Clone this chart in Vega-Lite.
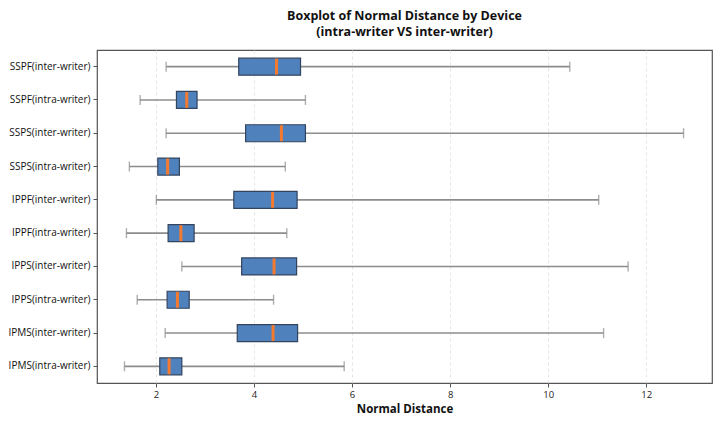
{
  "$schema": "https://vega.github.io/schema/vega-lite/v6.json",
  "autosize": {"type": "none"},
  "width": 615,
  "height": 333,
  "padding": {"left": 97, "top": 50, "right": 8, "bottom": 40},
  "background": "white",
  "title": {
    "text": ["Boxplot of Normal Distance by Device", "(intra-writer VS inter-writer)"],
    "font": "Open Sans",
    "fontSize": 12.5,
    "fontWeight": "bold",
    "color": "#111111",
    "anchor": "middle",
    "frame": "group",
    "lineHeight": 16,
    "offset": 12
  },
  "config": {
    "view": {"stroke": "#555555", "strokeWidth": 1.2},
    "font": "Open Sans"
  },
  "data": {
    "values": [
      {"label": "SSPF(inter-writer)", "lo": 2.21, "q1": 3.69, "med": 4.46, "q3": 4.95, "hi": 10.44},
      {"label": "SSPF(intra-writer)", "lo": 1.68, "q1": 2.42, "med": 2.63, "q3": 2.84, "hi": 5.05},
      {"label": "SSPS(inter-writer)", "lo": 2.21, "q1": 3.83, "med": 4.56, "q3": 5.05, "hi": 12.76},
      {"label": "SSPS(intra-writer)", "lo": 1.46, "q1": 2.04, "med": 2.24, "q3": 2.48, "hi": 4.64},
      {"label": "IPPF(inter-writer)", "lo": 2.01, "q1": 3.59, "med": 4.38, "q3": 4.88, "hi": 11.03},
      {"label": "IPPF(intra-writer)", "lo": 1.40, "q1": 2.25, "med": 2.51, "q3": 2.78, "hi": 4.67},
      {"label": "IPPS(inter-writer)", "lo": 2.53, "q1": 3.75, "med": 4.41, "q3": 4.87, "hi": 11.63},
      {"label": "IPPS(intra-writer)", "lo": 1.62, "q1": 2.23, "med": 2.44, "q3": 2.68, "hi": 4.40},
      {"label": "IPMS(inter-writer)", "lo": 2.19, "q1": 3.66, "med": 4.39, "q3": 4.89, "hi": 11.13},
      {"label": "IPMS(intra-writer)", "lo": 1.36, "q1": 2.08, "med": 2.27, "q3": 2.53, "hi": 5.84}
    ]
  },
  "encoding": {
    "y": {
      "field": "label",
      "type": "nominal",
      "sort": null,
      "title": null,
      "axis": {
        "domain": false,
        "ticks": true,
        "tickSize": 4,
        "tickColor": "#555555",
        "labelFontSize": 10,
        "labelColor": "#111111",
        "labelPadding": 3,
        "grid": false
      }
    }
  },
  "layer": [
    {
      "mark": {"type": "rule", "color": "#8c8c8c", "strokeWidth": 1.6},
      "encoding": {
        "x": {
          "field": "lo",
          "type": "quantitative",
          "scale": {"domain": [0.8, 13.34], "nice": false, "zero": false},
          "title": "Normal Distance",
          "axis": {
            "values": [2, 4, 6, 8, 10, 12],
            "domain": false,
            "grid": true,
            "gridColor": "#dddddd",
            "gridDash": [3, 3],
            "gridWidth": 0.8,
            "tickSize": 4,
            "tickColor": "#555555",
            "labelFontSize": 9.5,
            "labelColor": "#222222",
            "titleFontSize": 11.5,
            "titleFontWeight": "bold",
            "titleColor": "#111111",
            "titlePadding": 5
          }
        },
        "x2": {"field": "hi"}
      }
    },
    {
      "mark": {"type": "tick", "orient": "vertical", "color": "#8c8c8c", "thickness": 1.4, "size": 10},
      "encoding": {"x": {"field": "lo", "type": "quantitative"}}
    },
    {
      "mark": {"type": "tick", "orient": "vertical", "color": "#8c8c8c", "thickness": 1.4, "size": 10},
      "encoding": {"x": {"field": "hi", "type": "quantitative"}}
    },
    {
      "mark": {"type": "bar", "fill": "#4f81bd", "stroke": "#33445e", "strokeWidth": 1.2, "height": 17},
      "encoding": {"x": {"field": "q1", "type": "quantitative"}, "x2": {"field": "q3"}}
    },
    {
      "mark": {"type": "tick", "orient": "vertical", "color": "#f47a30", "thickness": 3, "size": 16, "opacity": 1},
      "encoding": {"x": {"field": "med", "type": "quantitative"}}
    }
  ]
}
